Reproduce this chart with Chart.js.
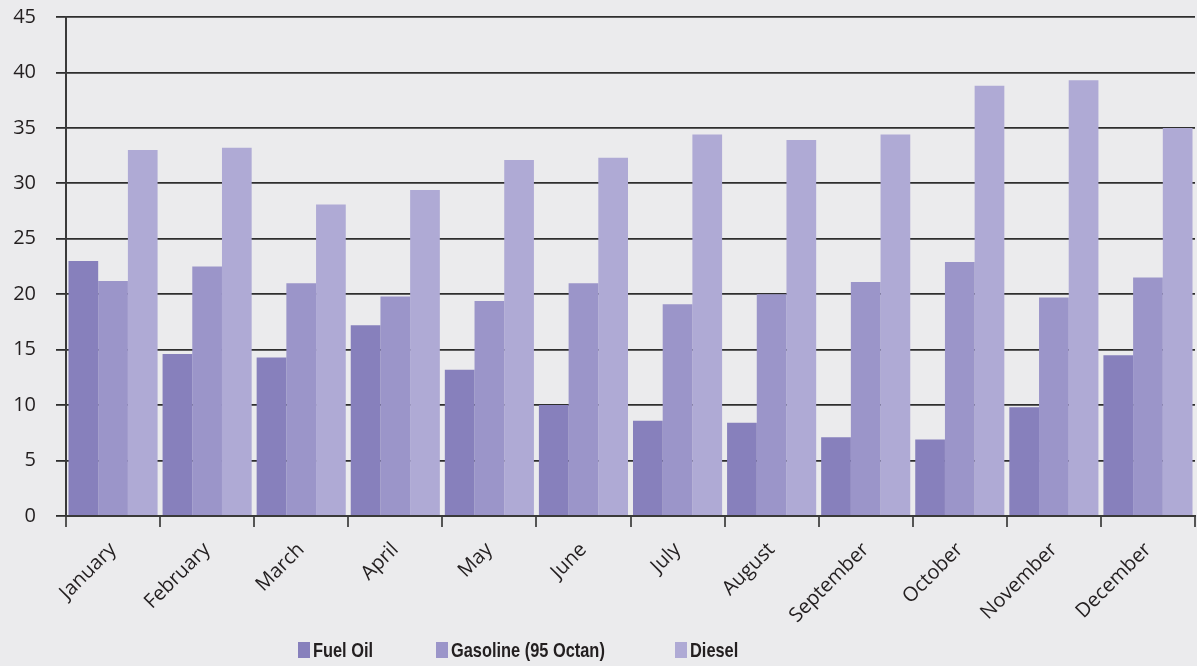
<!DOCTYPE html>
<html>
<head>
<meta charset="utf-8">
<script src="https://cdn.jsdelivr.net/npm/chart.js@4.4.1/dist/chart.umd.min.js"></script>
<style>
  html, body { margin: 0; padding: 0; background: #ebebed; }
  #wrap { width: 1197px; height: 666px; position: relative; }
  #legend {
    position: absolute; left: 298px; top: 638px; margin: 0; padding: 0;
    list-style: none; display: flex; height: 24px; align-items: center;
  }
  #legend li { display: flex; align-items: center; margin-right: 63px; }
  #legend li:nth-child(2) { margin-right: 70px; }
  #legend .box { width: 12px; height: 16px; margin-right: 3px; }
  #legend .txt {
    font-family: 'Liberation Sans', Arial, sans-serif; font-weight: bold; font-size: 21px;
    color: #231f20; display: inline-block; transform: scaleX(0.78); transform-origin: left center;
    white-space: nowrap;
  }
</style>
</head>
<body>
<div id="wrap">
  <canvas id="fuelChart"></canvas>
  <ul id="legend"></ul>
</div>
<script>
/* ========== Data ========== */
const months = ['January', 'February', 'March', 'April', 'May', 'June', 'July',
  'August', 'September', 'October', 'November', 'December'];
const fuelOil  = [23.0, 14.6, 14.3, 17.2, 13.2, 10.0, 8.6, 8.4, 7.1, 6.9, 9.8, 14.5];
const gasoline = [21.2, 22.5, 21.0, 19.8, 19.4, 21.0, 19.1, 20.0, 21.1, 22.9, 19.7, 21.5];
const diesel   = [33.0, 33.2, 28.1, 29.4, 32.1, 32.3, 34.4, 33.9, 34.4, 38.8, 39.3, 35.0];
const yTicks   = [0, 5, 10, 15, 20, 25, 30, 35, 40, 45];

const textColor = '#231f20';

/* ========== Bar Chart ========== */
const chart = new Chart(document.getElementById('fuelChart'), {
  type: 'bar',
  data: {
    labels: months,
    datasets: [
      { label: 'Fuel Oil', data: fuelOil, backgroundColor: '#8780bc' },
      { label: 'Gasoline (95 Octan)', data: gasoline, backgroundColor: '#9b95c9' },
      { label: 'Diesel', data: diesel, backgroundColor: '#afaad5' }
    ]
  },
  options: {
    responsive: true,
    maintainAspectRatio: false,
    animation: false,
    layout: { padding: { top: 17, right: 2, left: 0, bottom: 0 } },
    datasets: { bar: { categoryPercentage: 0.947, barPercentage: 1.0, borderWidth: 0 } },
    plugins: {
      tooltip: { enabled: false },
      legend: { display: false }
    },
    scales: {
      x: {
        afterFit: s => { s.height = 150; },
        border: { display: true, color: '#3a3a3a', width: 2 },
        grid: { drawOnChartArea: false, drawTicks: true, tickLength: 11, color: '#555', lineWidth: 2 },
        ticks: {
          color: textColor,
          minRotation: 45, maxRotation: 45,
          padding: 11,
          font: { family: "'Open Sans', sans-serif", size: 20 }
        }
      },
      y: {
        min: 0, max: 45,
        // fixed width; drop the label padding so the plot starts at the layout padding
        afterFit: s => { s.width = 66; s.paddingTop = 0; s.paddingBottom = 0; },
        afterBuildTicks: s => { s.ticks = yTicks.map(v => ({ value: v })); },
        border: { display: true, color: '#3a3a3a', width: 2 },
        grid: { color: '#2e2e2e', lineWidth: 1.8, tickLength: 10 },
        ticks: {
          color: textColor,
          padding: 20,
          font: { family: "'Open Sans', sans-serif", size: 20 }
        }
      }
    }
  }
});

/* ========== Legend ========== */
const legendList = document.getElementById('legend');
chart.data.datasets.forEach(d => {
  legendList.insertAdjacentHTML('beforeend', `
    <li><span class="box" style="background:${d.backgroundColor}"></span><span class="txt">${d.label}</span></li>
  `);
});
// scaleX doesn't shrink layout width, so trim each item to its drawn width
legendList.querySelectorAll('.txt').forEach(t => {
  t.style.marginRight = (-t.offsetWidth * 0.22) + 'px';
});
</script>
</body>
</html>
